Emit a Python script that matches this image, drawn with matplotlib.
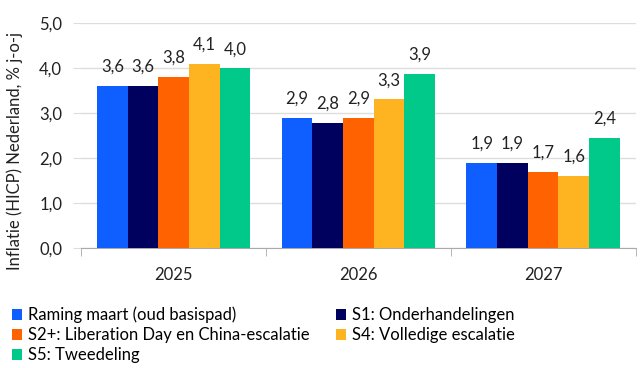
import numpy as np
import matplotlib.pyplot as plt

plt.rcParams.update({
    'font.family': ['Lato', 'DejaVu Sans'],
    'font.size': 12,
})

years = ['2025', '2026', '2027']
scenarios = ['Raming maart (oud basispad)', 'S1: Onderhandelingen',
             'S2+: Liberation Day en China-escalatie', 'S4: Volledige escalatie',
             'S5: Tweedeling']
raming = [3.60, 2.89, 1.89]
s1 = [3.60, 2.78, 1.89]
s2 = [3.80, 2.89, 1.69]
s4 = [4.09, 3.30, 1.60]
s5 = [3.99, 3.86, 2.44]
colors = ['#0F5EFF', '#00005F', '#FF6200', '#FDB420', '#00C98A']

series = [raming, s1, s2, s4, s5]

fig = plt.figure(figsize=(6.4, 3.68), dpi=100)
ax = fig.add_axes([0.127, 0.326, 0.866, 0.612])

x = np.arange(len(years))
n = len(series)
w = 0.83 / n
for i, vals in enumerate(series):
    pos = x - 0.83 / 2 + w * (i + 0.5)
    ax.bar(pos, vals, width=w, color=colors[i], label=scenarios[i], zorder=3)
    for p, v in zip(pos, vals):
        ax.annotate(f'{v:.1f}'.replace('.', ','), (p, v), xytext=(0, 8),
                    textcoords='offset points', ha='center', va='bottom',
                    fontsize=12, color='#222222')

ax.set_ylim(0, 5)
ax.set_xlim(-0.5, 2.5)
ax.set_yticks(np.arange(0, 5.01, 1))
ax.set_yticklabels([f'{t:.1f}'.replace('.', ',') for t in np.arange(0, 5.01, 1)])
ax.yaxis.grid(True, color='#dddddd', linewidth=1, zorder=0)
ax.tick_params(axis='y', length=5.8, color='#dddddd', labelcolor='#222222', pad=8)

ax.set_xticks(x)
ax.set_xticklabels(years)
ax.set_xticks([-0.5, 0.5, 1.5, 2.5], minor=True)
ax.tick_params(axis='x', which='major', length=0, pad=14, labelcolor='#222222')
ax.tick_params(axis='x', which='minor', length=5.8, color='#aaaaaa')

for s in ['top', 'right', 'left']:
    ax.spines[s].set_visible(False)
ax.spines['bottom'].set_color('#aaaaaa')

ax.set_ylabel('Inflatie (HICP) Nederland, % j-o-j', color='#222222')
ax.yaxis.set_label_coords(-0.105, 0.43)

# legend fills column-wise, so reorder to read row by row like the original
handles, labels = ax.get_legend_handles_labels()
order = [0, 2, 4, 1, 3]
fig.legend([handles[i] for i in order], [labels[i] for i in order], ncol=2,
           loc='upper left', bbox_to_anchor=(0.008, 0.185),
           frameon=False, handlelength=0.6, handleheight=0.6, handletextpad=0.35,
           columnspacing=1.6, labelspacing=0.25, borderaxespad=0, fontsize=12)

fig.savefig('out.png', dpi=100)
